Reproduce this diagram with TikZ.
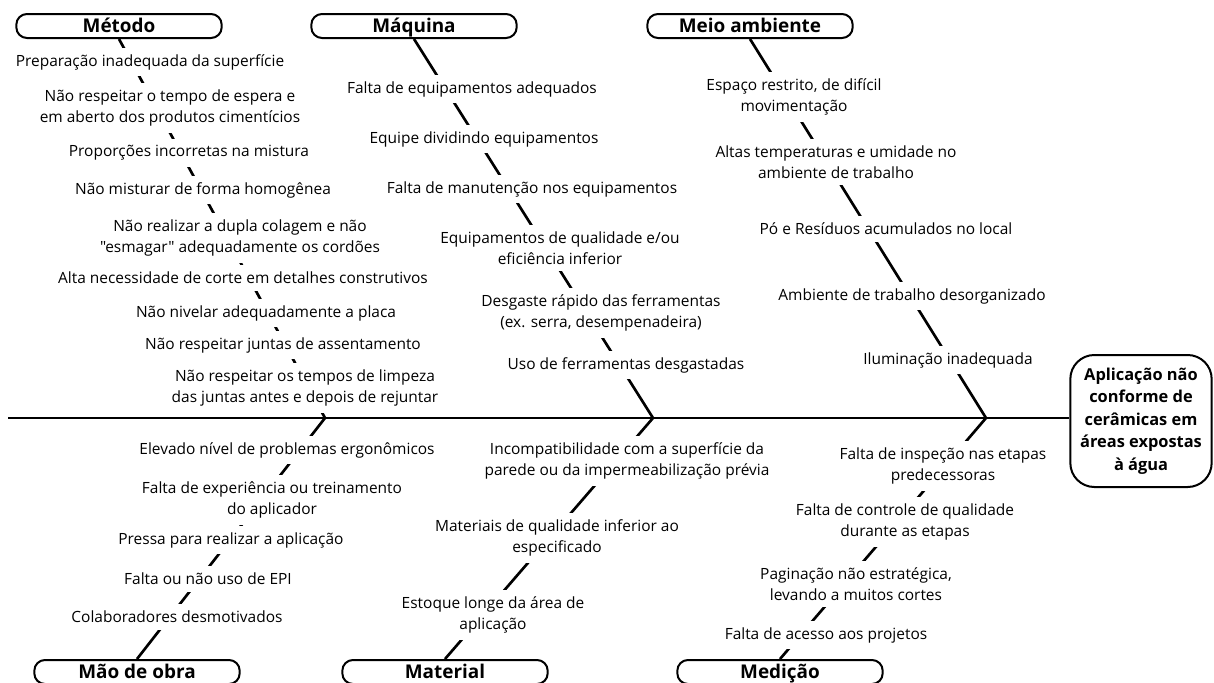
\documentclass[tikz,border=0pt]{standalone}
\usepackage{fontspec}
\setmainfont{Open Sans}[Ligatures=TeXOff]
\usetikzlibrary{backgrounds}

\tikzset{
  cause/.style={fill=white, inner xsep=2pt, inner ysep=5pt, align=center,
    font=\fontsize{11.6}{15.4}\selectfont},
  category/.style={draw, fill=white, line width=1.5pt, rounded corners=8pt,
    minimum width=154pt, minimum height=18pt, inner sep=0pt,
    text height=11pt, text depth=1pt,
    font=\bfseries\fontsize{14.2}{16}\selectfont},
  effect/.style={draw, fill=white, line width=1.5pt, rounded corners=18pt,
    minimum width=106pt, minimum height=99pt, inner sep=0pt, align=center,
    font=\bfseries\fontsize{12.3}{16.9}\selectfont},
  bone/.style={line width=2pt}
}

\begin{document}
\begin{tikzpicture}[x=0.75pt, y=-0.75pt]
\useasboundingbox (0,0) rectangle (1214,682);

% spine and effect
\coordinate (tail) at (8,418);
\coordinate (j1) at (325,418);
\coordinate (j2) at (653,418);
\coordinate (j3) at (986,418);
\node[effect] (effect) at (1141,421)
  {Aplicação não\\conforme de\\cerâmicas em\\áreas expostas\\à água};

% categories
\node[category] (metodo) at (119,26) {Método};
\node[category] (maquina) at (414,26) {Máquina};
\node[category] (meio) at (750,26) {Meio ambiente};
\node[category] (maodeobra) at (137,672) {Mão de obra};
\node[category] (material) at (445,672) {Material};
\node[category] (medicao) at (780,672) {Medição};

% Método
\node[cause] (m1) at (150,62) {Preparação inadequada da superfície};
\node[cause] (m2) at (170,108) {Não respeitar o tempo de espera e\\em aberto dos produtos cimentícios};
\node[cause] (m3) at (189,153) {Proporções incorretas na mistura};
\node[cause] (m4) at (203,190) {Não misturar de forma homogênea};
\node[cause] (m5) at (240,238) {Não realizar a dupla colagem e não\\"esmagar" adequadamente os cordões};
\node[cause] (m6) at (243,278) {Alta necessidade de corte em detalhes construtivos};
\node[cause] (m7) at (266,313) {Não nivelar adequadamente a placa};
\node[cause] (m8) at (283,345) {Não respeitar juntas de assentamento};
\node[cause] (m9) at (305,388) {Não respeitar os tempos de limpeza\\das juntas antes e depois de rejuntar};

% Máquina
\node[cause] (q1) at (472,89) {Falta de equipamentos adequados};
\node[cause] (q2) at (484,139) {Equipe dividindo equipamentos};
\node[cause] (q3) at (532,189) {Falta de manutenção nos equipamentos};
\node[cause] (q4) at (560,248) {Equipamentos de qualidade e/ou\\eficiência inferior};
\node[cause] (q5) at (601,313) {Desgaste rápido das ferramentas\\(ex. serra, desempenadeira)};
\node[cause] (q6) at (626,365) {Uso de ferramentas desgastadas};

% Meio ambiente
\node[cause] (a1) at (794,97) {Espaço restrito, de difícil\\movimentação};
\node[cause] (a2) at (836,162) {Altas temperaturas e umidade no\\ambiente de trabalho};
\node[cause] (a3) at (886,229) {Pó e Resíduos acumulados no local};
\node[cause] (a4) at (912,296) {Ambiente de trabalho desorganizado};
\node[cause] (a5) at (948,360) {Iluminação inadequada};

% Mão de obra
\node[cause] (o1) at (287,450) {Elevado nível de problemas ergonômicos};
\node[cause] (o2) at (272,500) {Falta de experiência ou treinamento\\do aplicador};
\node[cause] (o3) at (231,540) {Pressa para realizar a aplicação};
\node[cause] (o4) at (208,579) {Falta ou não uso de EPI};
\node[cause] (o5) at (177,617) {Colaboradores desmotivados};

% Material
\node[cause] (t1) at (627,461) {Incompatibilidade com a superfície da\\parede ou da impermeabilização prévia};
\node[cause] (t2) at (557,538) {Materiais de qualidade inferior ao\\especificado};
\node[cause] (t3) at (493,615) {Estoque longe da área de\\aplicação};

% Medição
\node[cause] (d1) at (943,466) {Falta de inspeção nas etapas\\predecessoras};
\node[cause] (d2) at (905,522) {Falta de controle de qualidade\\durante as etapas};
\node[cause] (d3) at (856,584) {Paginação não estratégica,\\levando a muitos cortes};
\node[cause] (d4) at (826,635) {Falta de acesso aos projetos};

% bones behind the texts
\begin{scope}[on background layer]
  \draw[bone] (tail) -- (tail -| effect.west);
  \foreach \c/\j in {metodo/j1, maquina/j2, meio/j3}
    \draw[bone] (\c.south) -- (\j);
  \foreach \c/\j in {maodeobra/j1, material/j2, medicao/j3}
    \draw[bone] (\c.north) -- (\j);
\end{scope}
\end{tikzpicture}
\end{document}
